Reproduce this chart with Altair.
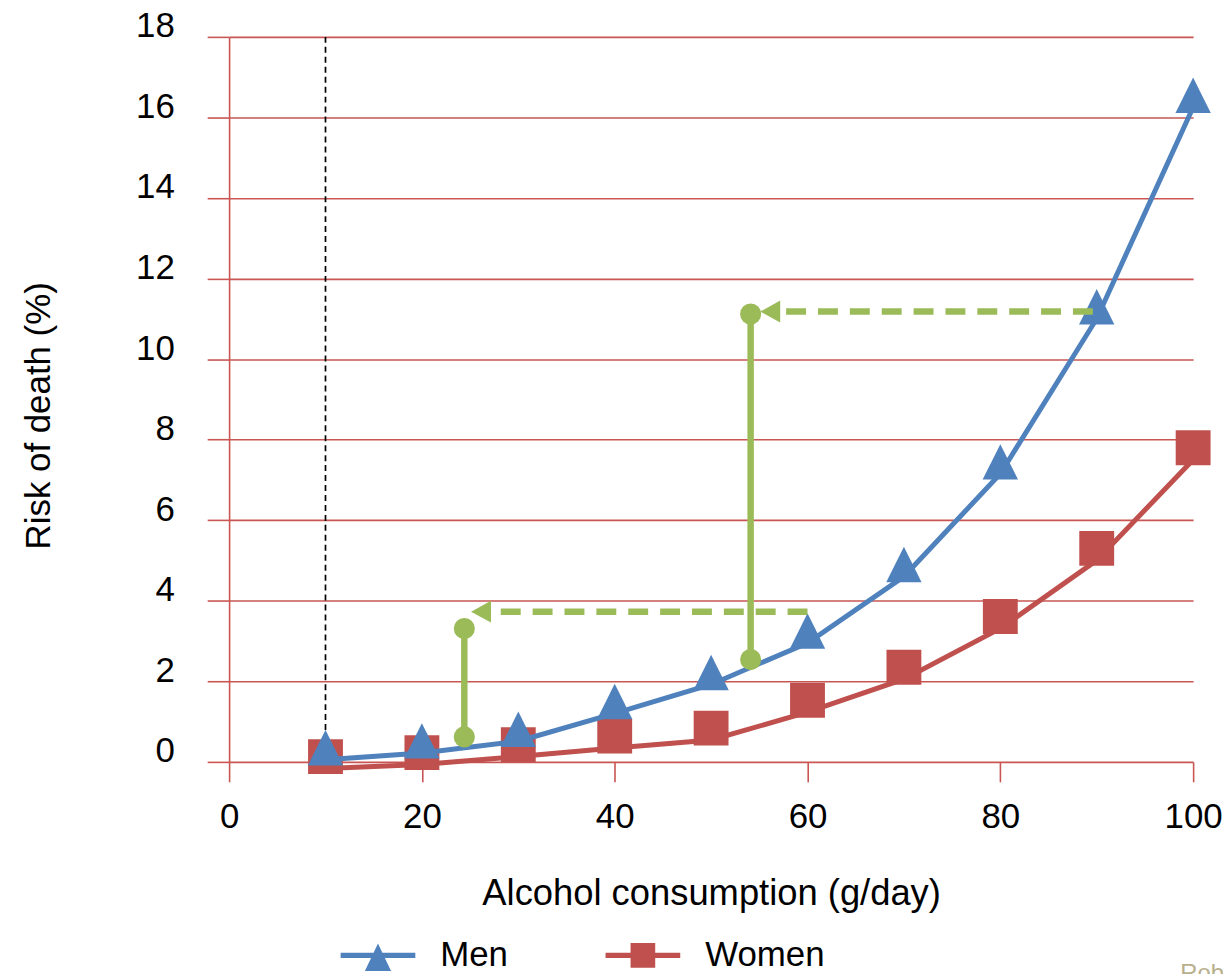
import altair as alt
import pandas as pd

# ---------------- data ----------------
consumption = [10, 20, 30, 40, 50, 60, 70, 80, 90, 100]
men_risk = [0.35, 0.52, 0.81, 1.50, 2.22, 3.25, 4.90, 7.45, 11.30, 16.55]
women_risk = [0.13, 0.23, 0.43, 0.64, 0.84, 1.53, 2.35, 3.61, 5.30, 7.80]
series_names = ["Men", "Women"]
series_colors = ["#4F81BD", "#C0504D"]

x_ticks = [0, 20, 40, 60, 80, 100]
y_ticks = [0, 2, 4, 6, 8, 10, 12, 14, 16, 18]

ref_line_x = [10]
ref_line_top = [18]
ref_line_bottom = [men_risk[0]]

step_x = [24.4, 54.1]
step_low = [0.62, 2.54]
step_high = [3.31, 11.12]
arrow_y = [3.73, 11.18]
arrow_start = [60.0, 89.6]
arrow_end = [27.5, 57.2]
arrow_tip = [25.1, 55.1]

credit_text = ["Rob"]

# ---------------- styles ----------------
FONT = "Liberation Sans"
BLUE, RED = series_colors
GREEN = "#9BBB59"
GRID_RED = "#C95653"
TRI_PATH = "M0,-1L1,1L-1,1Z"
ARROW_PATH = "M0,0L2,-1.1L2,1.1Z"
LEG_MEN = "M-1,-0.07H1V0.07H-1Z M0,-0.32L0.35,0.42L-0.35,0.42Z"
LEG_WOMEN = "M-1,-0.07H1V0.07H-1Z M-0.33,-0.33H0.33V0.33H-0.33Z"

xs = alt.Scale(domain=[0, 100], nice=False, zero=False)
ys = alt.Scale(domain=[0, 18], nice=False, zero=False)

x_axis = alt.Axis(
    values=x_ticks, title="Alcohol consumption (g/day)", grid=False, domain=False,
    ticks=True, tickColor=GRID_RED, tickSize=20, tickWidth=1.6,
    labelFont=FONT, labelFontSize=35, labelColor="black", labelPadding=46,
    labelBaseline="alphabetic", labelFlush=False, labelOverlap=False, labelBound=False,
    titleFont=FONT, titleFontSize=36.5, titleFontWeight="normal", titleColor="black",
    titleX=484, titleY=143, titleBaseline="alphabetic", titleAlign="center",
)
y_axis = alt.Axis(
    values=y_ticks, title="Risk of death (%)", grid=True, gridColor=GRID_RED, gridWidth=1.6,
    domain=True, domainColor=GRID_RED, domainWidth=1.6,
    ticks=True, tickColor=GRID_RED, tickSize=22, tickWidth=1.6,
    labelFont=FONT, labelFontSize=35, labelColor="black", labelPadding=33,
    labelBaseline="alphabetic", labelAlign="right", labelFlush=False, labelOverlap=False,
    labelBound=False, format="d",
    titleFont=FONT, titleFontSize=35, titleFontWeight="normal", titleColor="black",
    titleAngle=270, titleX=-180, titleY=380, titleBaseline="alphabetic", titleAlign="center",
)

men_df = pd.DataFrame({"x": consumption, "risk": men_risk})
women_df = pd.DataFrame({"x": consumption, "risk": women_risk})


def X(field):
    return alt.X(field, type="quantitative", scale=xs, axis=x_axis)


def Y(field):
    return alt.Y(field, type="quantitative", scale=ys, axis=y_axis)


ref_rule = alt.Chart(pd.DataFrame({"x": ref_line_x, "top": ref_line_top, "bottom": ref_line_bottom})).mark_rule(
    color="black", strokeWidth=1.7, strokeDash=[6, 4]
).encode(x=X("x"), y=Y("top"), y2="bottom")

women_line = alt.Chart(women_df).mark_line(color=RED, strokeWidth=5, yOffset=12).encode(
    x=X("x"), y=Y("risk")
)
women_pts = alt.Chart(women_df).mark_point(
    shape="square", size=1225, filled=True, opacity=1, color=RED
).encode(x=X("x"), y=Y("risk"))

men_line = alt.Chart(men_df).mark_line(color=BLUE, strokeWidth=5, yOffset=12).encode(
    x=X("x"), y=Y("risk")
)
men_pts = alt.Chart(men_df).mark_point(
    shape=TRI_PATH, size=1260, filled=True, opacity=1, color=BLUE
).encode(x=X("x"), y=Y("risk"))

steps = alt.Chart(pd.DataFrame({"x": step_x, "lo": step_low, "hi": step_high})).mark_rule(
    color=GREEN, strokeWidth=6.5
).encode(x=X("x"), y=Y("lo"), y2="hi")

step_dots = alt.Chart(pd.DataFrame({"x": step_x + step_x, "y": step_low + step_high})).mark_circle(
    size=450, opacity=1, color=GREEN
).encode(x=X("x"), y=Y("y"))

arrows = alt.Chart(pd.DataFrame({"x": arrow_start, "x2": arrow_end, "y": arrow_y})).mark_rule(
    color=GREEN, strokeWidth=6.5, strokeDash=[20, 12]
).encode(x=X("x"), x2="x2", y=Y("y"))

heads = alt.Chart(pd.DataFrame({"x": arrow_tip, "y": arrow_y})).mark_point(
    shape=ARROW_PATH, size=400, filled=True, opacity=1, color=GREEN
).encode(x=X("x"), y=Y("y"))

legend = alt.Legend(
    title=None, orient="none", legendX=112, legendY=884.5, direction="horizontal",
    symbolSize=5625, symbolStrokeWidth=0, symbolOpacity=1,
    labelFont=FONT, labelFontSize=35, labelColor="black", labelOffset=25,
    columnPadding=97, padding=0,
)
legend_proxy = alt.Chart(pd.DataFrame({"sex": series_names})).mark_point(
    filled=True, opacity=1
).encode(
    color=alt.Color("sex:N", scale=alt.Scale(domain=series_names, range=series_colors), legend=legend),
    shape=alt.Shape("sex:N", scale=alt.Scale(domain=series_names, range=[LEG_MEN, LEG_WOMEN]), legend=legend),
).transform_filter("false")

credit = alt.Chart(pd.DataFrame({"t": credit_text})).mark_text(
    font=FONT, fontSize=24, color="#B8B08C", align="left", baseline="alphabetic"
).encode(x=alt.value(955), y=alt.value(948), text="t:N")

chart = alt.layer(
    women_line, ref_rule, women_pts, men_line, men_pts,
    steps, arrows, heads, step_dots, legend_proxy, credit,
).properties(
    width=968, height=728,
    autosize=alt.AutoSizeParams(type="none"),
    padding={"left": 222, "top": 27, "right": 30, "bottom": 215},
).configure(font=FONT, background="white").configure_view(stroke=None)

chart.save("out.html", embed_options={"renderer": "svg", "actions": False})
